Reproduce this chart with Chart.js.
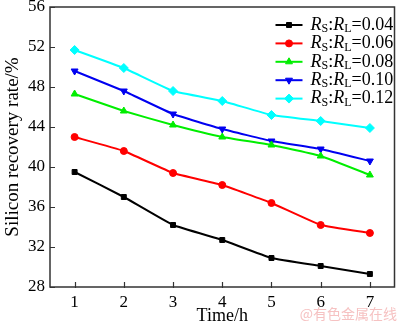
<!DOCTYPE html>
<html><head><meta charset="utf-8">
<script src="https://cdn.jsdelivr.net/npm/chart.js@4/dist/chart.umd.min.js"></script>
<style>html,body{margin:0;padding:0;background:#fff}#wrap{width:400px;height:324px;position:relative}</style>
</head><body><div id="wrap"><canvas id="c"></canvas></div>
<script>
const times = ['1', '2', '3', '4', '5', '6', '7'];
const ratios = ['0.04', '0.06', '0.08', '0.10', '0.12'];
const rate004 = [39.5, 37.0, 34.2, 32.7, 30.9, 30.1, 29.3];
const rate006 = [43.0, 41.6, 39.4, 38.2, 36.4, 34.2, 33.4];
const rate008 = [47.3, 45.6, 44.2, 43.0, 42.2, 41.1, 39.2];
const rate010 = [49.6, 47.6, 45.3, 43.8, 42.6, 41.8, 40.6];
const rate012 = [51.7, 49.9, 47.6, 46.6, 45.2, 44.6, 43.9];
const yMin = 28, yMax = 56, yStep = 4;
const xTitle = 'Time/h';
const yTitle = 'Silicon recovery rate/%';
const watermark = '@有色金属在线';

const seriesValues = [rate004, rate006, rate008, rate010, rate012];
const colors = ['#000000', '#ff0000', '#00ee00', '#0000f0', '#00ffff'];
const styles = ['rect', 'circle', 'triangle', 'triangle', 'rectRot'];
const rotations = [0, 0, 0, 180, 0];
const radii = [3.5, 3.5, 4, 4, 4.5];

const datasets = seriesValues.map((vals, i) => ({
  label: 'RS:RL=' + ratios[i],
  data: vals,
  borderColor: colors[i],
  backgroundColor: colors[i],
  borderWidth: 2,
  pointStyle: styles[i],
  pointRotation: rotations[i],
  pointRadius: radii[i],
  pointBorderWidth: 1,
  tension: 0.1,
  fill: false
}));

const serif = '"Liberation Serif", "DejaVu Serif", serif';

const framePlugin = {
  id: 'frameTicks',
  beforeDatasetsDraw(chart) {
    const {ctx, chartArea: {left, right, top, bottom}, scales: {x, y}} = chart;
    ctx.save();
    ctx.strokeStyle = '#333';
    ctx.lineWidth = 1.5;
    ctx.strokeRect(left, top, right - left, bottom - top);
    ctx.lineWidth = 1.2;
    ctx.beginPath();
    y.ticks.forEach((t, i) => {
      const py = Math.round(y.getPixelForTick(i)) + 0.5;
      ctx.moveTo(left, py); ctx.lineTo(left + 5, py);
    });
    x.ticks.forEach((t, i) => {
      const px = Math.round(x.getPixelForTick(i)) + 0.5;
      ctx.moveTo(px, bottom + 1); ctx.lineTo(px, bottom - 5);
    });
    ctx.stroke();
    ctx.restore();
  }
};

const legendPlugin = {
  id: 'subLegend',
  afterDatasetsDraw(chart) {
    const ctx = chart.ctx;
    const area = chart.chartArea;
    const x0 = area.right - 119, x1 = area.right - 92, tx = area.right - 84;
    chart.data.datasets.forEach((ds, i) => {
      const y = area.top + 18 + i * 18.4;
      ctx.save();
      ctx.strokeStyle = ds.borderColor;
      ctx.fillStyle = ds.backgroundColor;
      ctx.lineWidth = 2;
      ctx.beginPath(); ctx.moveTo(x0, y); ctx.lineTo(x1, y); ctx.stroke();
      ctx.lineWidth = 1;
      Chart.helpers.drawPoint(ctx, {pointStyle: ds.pointStyle, radius: ds.pointRadius, rotation: ds.pointRotation, borderWidth: 1}, (x0 + x1) / 2, y);
      ctx.fillStyle = '#000';
      ctx.textBaseline = 'middle';
      ctx.textAlign = 'left';
      let x = tx;
      const seg = (t, font, dy) => { ctx.font = font; ctx.fillText(t, x, y + dy); x += ctx.measureText(t).width; };
      seg('R', 'italic 18px ' + serif, 0);
      seg('S', '12px ' + serif, 4);
      seg(':', '18px ' + serif, 0);
      seg('R', 'italic 18px ' + serif, 0);
      seg('L', '12px ' + serif, 4);
      seg('=' + ratios[i], '18px ' + serif, 0);
      ctx.restore();
    });
  }
};

const watermarkPlugin = {
  id: 'watermark',
  afterDraw(chart) {
    const ctx = chart.ctx;
    ctx.save();
    ctx.font = '14px "Noto Sans CJK SC", sans-serif';
    ctx.fillStyle = '#f6c2c2';
    ctx.textBaseline = 'middle';
    ctx.textAlign = 'right';
    ctx.fillText(watermark, 397, 314);
    ctx.restore();
  }
};

new Chart(document.getElementById('c'), {
  type: 'line',
  data: {labels: times, datasets},
  options: {
    responsive: true,
    maintainAspectRatio: false,
    animation: false,
    devicePixelRatio: 1,
    layout: {padding: {top: 7, right: 2, left: 0, bottom: 0}},
    plugins: {legend: {display: false}, tooltip: {enabled: false}},
    scales: {
      x: {
        type: 'category',
        offset: true,
        grid: {display: false, drawTicks: false},
        border: {display: false},
        ticks: {color: '#000', font: {family: serif, size: 17}, padding: 5, maxRotation: 0},
        title: {display: true, text: xTitle, color: '#000', font: {family: serif, size: 18}, padding: {top: 0, bottom: -3}},
        afterFit(s) { s.height = 37; s.paddingLeft = 0; s.paddingRight = 0; }
      },
      y: {
        min: yMin, max: yMax,
        grid: {display: false, drawTicks: false},
        border: {display: false},
        ticks: {stepSize: yStep, color: '#000', font: {family: serif, size: 17}, padding: 5},
        title: {display: true, text: yTitle, color: '#000', font: {family: serif, size: 19}, padding: {top: 2, bottom: 0}},
        afterFit(s) { s.width = 50; s.paddingTop = 0; s.paddingBottom = 0; }
      }
    }
  },
  plugins: [framePlugin, legendPlugin, watermarkPlugin]
});
</script>
</body></html>
